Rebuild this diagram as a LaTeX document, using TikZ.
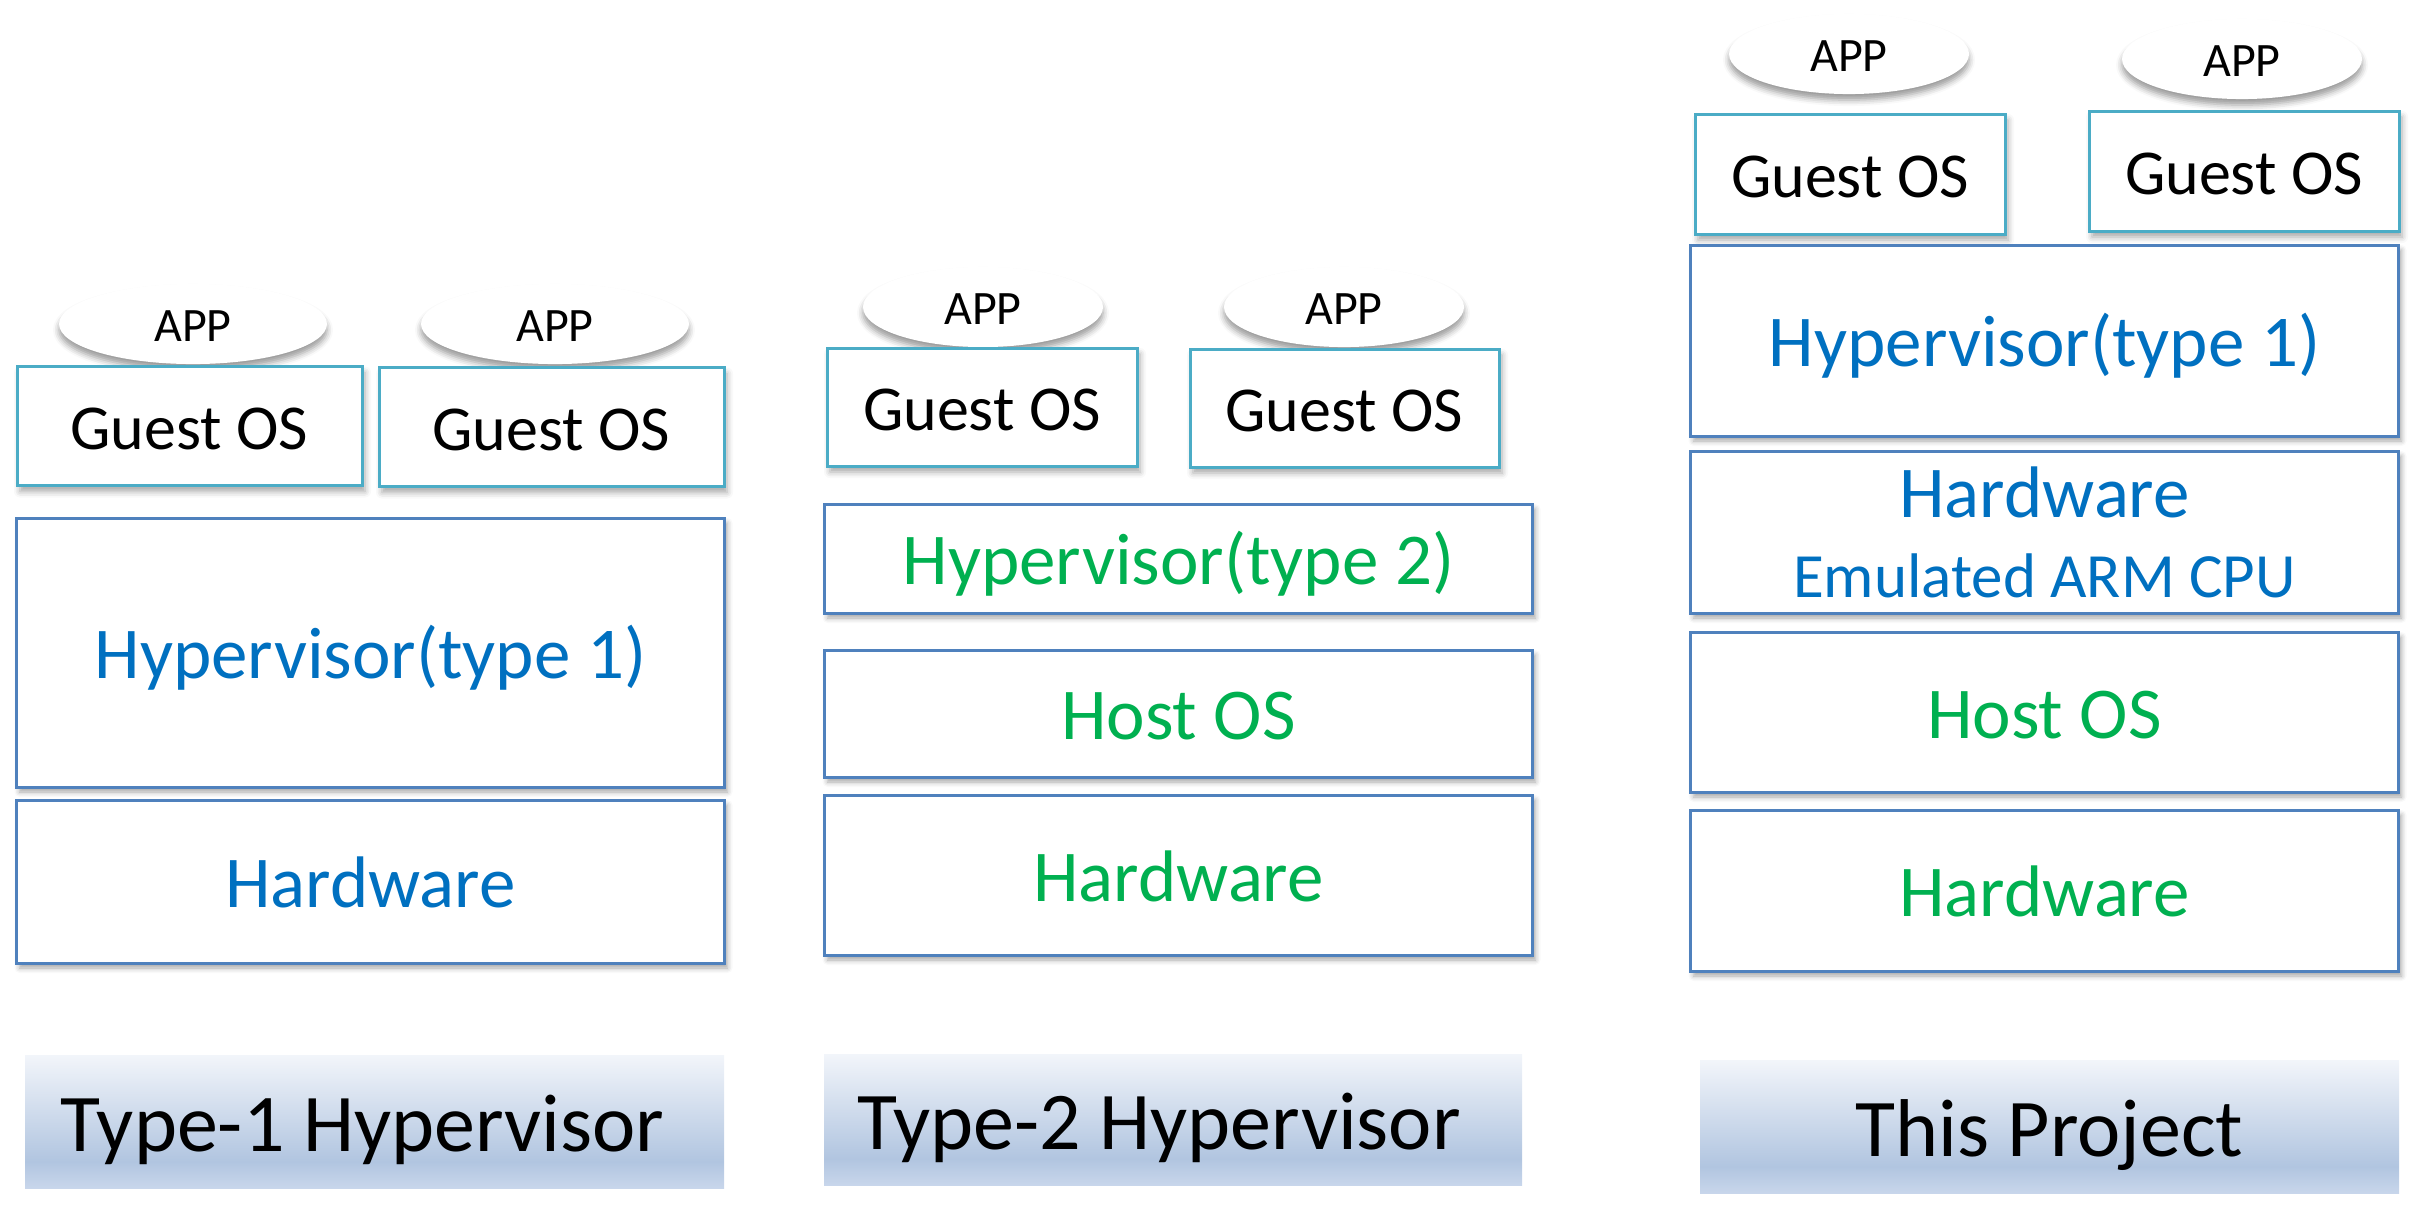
\documentclass[tikz,border=0pt]{standalone}
\usepackage{fontspec}
\setmainfont{Carlito}
\usetikzlibrary{shapes.geometric,shadows.blur}
\definecolor{layerblue}{HTML}{4F81BD}
\definecolor{guestcyan}{HTML}{4BACC6}
\definecolor{txtblue}{HTML}{0070C0}
\definecolor{txtgreen}{HTML}{00B050}
\definecolor{gT}{HTML}{F2F5FA}
\definecolor{gM}{HTML}{B1C5E0}
\definecolor{gB}{HTML}{C8D6EB}
\pgfdeclareverticalshading{labelgrad}{100bp}{color(0bp)=(gB); color(25bp)=(gB); color(35bp)=(gM); color(75bp)=(gT); color(100bp)=(gT)}
\tikzset{
  fsz/.style={font=\fontsize{#1}{#1}\selectfont, text height=0.95*#1pt, text depth=0.23*#1pt},
  layer/.style={draw=layerblue, line width=3pt, fill=white, inner sep=0pt,
    minimum width=708pt, fsz=73,
    blur shadow={shadow xshift=3pt, shadow yshift=-5pt, shadow blur radius=5pt, shadow opacity=35}},
  guest/.style={draw=guestcyan, line width=3pt, fill=white, inner sep=0pt,
    fsz=64, text=black,
    blur shadow={shadow xshift=3pt, shadow yshift=-6pt, shadow blur radius=6pt, shadow opacity=35}},
  app/.style={ellipse, fill=white, inner sep=0pt, fsz=48, text=black,
    blur shadow={shadow xshift=0pt, shadow yshift=-6pt, shadow blur radius=6pt, shadow opacity=40}},
  caption/.style={shading=labelgrad, inner sep=0pt, minimum width=699pt, fsz=82, text=black},
}
\begin{document}
\begin{tikzpicture}[x=1pt, y=-1pt]
\useasboundingbox (0,0) rectangle (2416,1227);
% ---------- Column 1 ----------
\node[app, minimum width=268pt, minimum height=69pt] (a11) at (193,324) {APP};
\node[app, minimum width=268pt, minimum height=69pt] (a12) at (555,324) {APP};
\node[guest, minimum width=345pt, minimum height=119pt] (g11) at (189.5,426) {Guest OS};
\node[guest, minimum width=345pt, minimum height=119pt] (g12) at (551.5,427) {Guest OS};
\node[layer, text=txtblue, minimum height=269pt] (hv1) at (370.5,652.5) {Hypervisor(type 1)};
\node[layer, text=txtblue, minimum height=163pt] (hw1) at (370.5,881.5) {Hardware};
\node[caption, minimum height=133pt] (c1) at (374.5,1121.5) {\hspace*{-24pt}Type-1 Hypervisor};
% ---------- Column 2 ----------
\node[app, minimum width=240pt, minimum height=68pt] (a21) at (983,307) {APP};
\node[app, minimum width=240pt, minimum height=68pt] (a22) at (1344,307) {APP};
\node[guest, minimum width=310pt, minimum height=118pt] (g21) at (982,407) {Guest OS};
\node[guest, minimum width=309pt, minimum height=118pt] (g22) at (1344.5,408) {Guest OS};
\node[layer, text=txtgreen, minimum height=109pt] (hv2) at (1178.5,558.5) {Hypervisor(type 2)};
\node[layer, text=txtgreen, minimum height=127pt] (ho2) at (1178.5,713.5) {Host OS};
\node[layer, text=txtgreen, minimum height=160pt] (hw2) at (1178.5,875) {Hardware};
\node[caption, minimum width=698pt, minimum height=131pt] (c2) at (1173,1119.5) {\hspace*{-28pt}Type-2 Hypervisor};
% ---------- Column 3 ----------
\node[app, minimum width=240pt, minimum height=71pt] (a31) at (1849,54) {APP};
\node[app, minimum width=240pt, minimum height=71pt] (a32) at (2242,59) {APP};
\node[guest, minimum width=310pt, minimum height=120pt] (g31) at (1850,174) {Guest OS};
\node[guest, minimum width=310pt, minimum height=120pt] (g32) at (2244,171) {Guest OS};
\node[layer, text=txtblue, minimum height=191pt] (hv3) at (2044.5,340.5) {Hypervisor(type 1)};
\node[layer, text=txtblue, minimum height=162pt, align=center, text height=, text depth=] (he3) at (2044.5,532)
  {Hardware\\[7pt]{\fontsize{63}{63}\selectfont Emulated ARM CPU}};
\node[layer, text=txtgreen, minimum height=160pt] (ho3) at (2044.5,712) {Host OS};
\node[layer, text=txtgreen, minimum height=161pt] (hw3) at (2044.5,890.5) {Hardware};
\node[caption, minimum height=133pt] (c3) at (2049.5,1126.5) {This Project};
\end{tikzpicture}
\end{document}
